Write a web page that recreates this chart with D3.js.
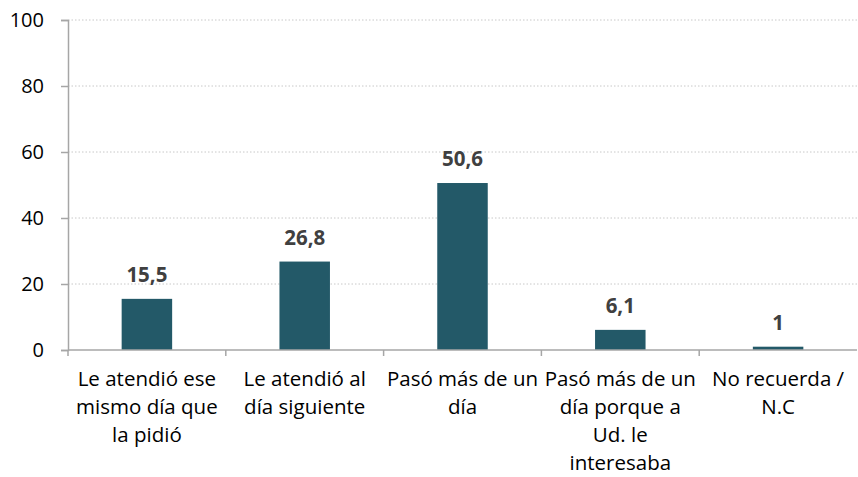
<!DOCTYPE html>
<html>
<head>
<meta charset="utf-8">
<script src="https://cdn.jsdelivr.net/npm/d3@7"></script>
<style>
  body { margin: 0; background: #fff; }
  svg { display: block; font-family: "Open Sans", sans-serif; }
</style>
</head>
<body>
<svg id="chart" width="858" height="477"></svg>
<script>
// category labels, already split into lines like the original
const categories = [
  ["Le atendió ese", "mismo día que", "la pidió"],
  ["Le atendió al", "día siguiente"],
  ["Pasó más de un", "día"],
  ["Pasó más de un", "día porque a", "Ud. le", "interesaba"],
  ["No recuerda /", "N.C"]
];
const values = [15.5, 26.8, 50.6, 6.1, 1];
const yTicks = [0, 20, 40, 60, 80, 100];

const svg = d3.select("#chart");
const margin = { top: 20, right: 1, bottom: 127, left: 68 };
const width = 858 - margin.left - margin.right;
const height = 477 - margin.top - margin.bottom;

const g = svg.append("g")
    .attr("transform", `translate(${margin.left},${margin.top})`);

const x = d3.scaleBand()
    .domain(d3.range(categories.length))
    .range([0, width])
    .paddingInner(0.68)
    .paddingOuter(0.34);

const y = d3.scaleLinear()
    .domain([0, 100])
    .range([height, 0]);

//dotted gridlines
g.append("g")
    .selectAll("line").data(yTicks.filter(d => d > 0))
    .enter().append("line")
    .attr("x1", 0)
    .attr("x2", width)
    .attr("y1", d => y(d))
    .attr("y2", d => y(d))
    .attr("stroke", "#c8c8c8")
    .attr("stroke-width", 1)
    .attr("stroke-dasharray", "1.5,2");

//bars
g.append("g")
    .selectAll("rect").data(values)
    .enter().append("rect")
    .attr("x", (d, i) => x(i))
    .attr("y", d => y(d))
    .attr("width", x.bandwidth())
    .attr("height", d => height - y(d))
    .attr("fill", "#235968");

//value labels
g.append("g")
    .selectAll("text").data(values)
    .enter().append("text")
    .attr("x", (d, i) => x(i) + x.bandwidth() / 2)
    .attr("y", d => y(d) - 17)
    .attr("text-anchor", "middle")
    .attr("font-size", 20.5)
    .attr("font-weight", "bold")
    .attr("fill", "#404040")
    .text(d => String(d).replace(".", ","));

//y axis
const yAxis = g.append("g")
    .call(d3.axisLeft(y).tickValues(yTicks).tickSize(7).tickPadding(17));
yAxis.select(".domain").attr("stroke", "#a6a6a6").attr("stroke-width", 1.5);
yAxis.selectAll(".tick line").attr("stroke", "#a6a6a6").attr("stroke-width", 1.5);
yAxis.selectAll(".tick text")
    .attr("font-size", 20)
    .attr("font-family", "Open Sans, sans-serif")
    .attr("fill", "#000");

//x axis line and separating ticks
const bandStep = width / categories.length;
const xAxis = g.append("g").attr("transform", `translate(0,${height})`);
xAxis.append("line")
    .attr("x1", 0).attr("x2", width)
    .attr("stroke", "#a6a6a6").attr("stroke-width", 1.5);
xAxis.selectAll(".sep").data(d3.range(categories.length))
    .enter().append("line")
    .attr("class", "sep")
    .attr("x1", i => i * bandStep).attr("x2", i => i * bandStep)
    .attr("y1", 0).attr("y2", 6)
    .attr("stroke", "#a6a6a6").attr("stroke-width", 1.5);

//category labels
const catLabels = xAxis.selectAll(".cat").data(categories)
    .enter().append("text")
    .attr("class", "cat")
    .attr("text-anchor", "middle")
    .attr("font-size", 20.5)
    .attr("fill", "#000")
    .attr("transform", (d, i) => `translate(${x(i) + x.bandwidth() / 2},0)`);
catLabels.selectAll("tspan").data(d => d)
    .enter().append("tspan")
    .attr("x", 0)
    .attr("y", (d, i) => 36 + i * 28)
    .text(d => d);
</script>
</body>
</html>
